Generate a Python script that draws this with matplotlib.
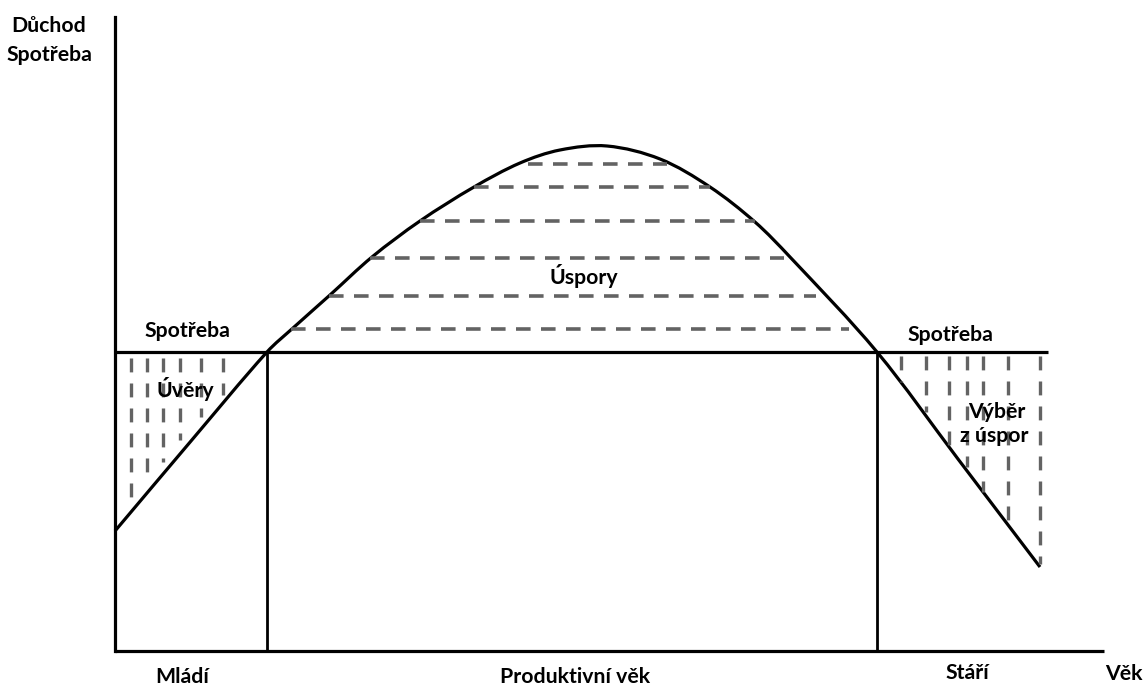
import matplotlib
matplotlib.use("Agg")
import matplotlib.pyplot as plt
import numpy as np
from matplotlib.path import Path
from matplotlib.patches import PathPatch

plt.rcParams["lines.scale_dashes"] = False
FONT = ["Lato", "DejaVu Sans"]

# --- data (pixel coordinates of the schematic, y grows downward) ---
# income curve (Důchod)
income_x = [115, 191, 267, 293, 330, 372, 420, 474, 520, 560, 607, 660,
            710, 755, 790, 877, 958, 1040]
income_y = [531, 441, 352, 328, 295, 257, 221, 187, 163, 150, 146, 159,
            187, 222, 257, 352, 459, 567]

# consumption level (Spotřeba)
consumption_y = 352
consumption_x = [115, 1048]

# phase borders
border_x = [267, 877]
axis_x0, axis_y0 = 115, 651
axis_top, axis_right = 17, 1104

# savings hatch (horizontal dashes)
sav_y = [164, 187, 221, 258, 296, 329]
sav_x0 = [528, 474, 420, 370, 329, 291]
sav_x1 = [667, 710, 755, 784, 816, 849]

# credit hatch (vertical dashes, left)
cred_x = [131, 147, 163, 180, 201, 223]
cred_y1 = [497, 478, 462, 440, 417, 395]

# dissaving hatch (vertical dashes, right)
dis_x = [901, 926, 949, 967, 983, 1008, 1040]
dis_y1 = [382, 412, 448, 467, 492, 527, 564]


def smooth_path(xs, ys):
    # chord-length Catmull-Rom drawn as cubic Bezier segments
    p = np.column_stack([xs, ys]).astype(float)
    d = np.hypot(*np.diff(p, axis=0).T)
    n = len(p)
    m = np.zeros_like(p)
    m[0] = (p[1] - p[0]) / d[0]
    m[-1] = (p[-1] - p[-2]) / d[-1]
    for i in range(1, n - 1):
        m[i] = (p[i + 1] - p[i - 1]) / (d[i - 1] + d[i])
    verts = [p[0]]
    codes = [Path.MOVETO]
    for i in range(n - 1):
        verts += [p[i] + m[i] * d[i] / 3, p[i + 1] - m[i + 1] * d[i] / 3, p[i + 1]]
        codes += [Path.CURVE4] * 3
    return Path(verts, codes)


fig = plt.figure(figsize=(11.47, 6.85), dpi=100)
ax = fig.add_axes([0, 0, 1, 1])
ax.set_xlim(0, 1147)
ax.set_ylim(685, 0)
ax.axis("off")

gray = "#636363"
for y, x0, x1 in zip(sav_y, sav_x0, sav_x1):
    ax.plot([x0, x1], [y, y], color=gray, lw=2.6, ls=(0, (10.5, 7.5)),
            dash_capstyle="butt")
for x, y1 in zip(cred_x, cred_y1):
    ax.plot([x, x], [358, y1], color=gray, lw=2.4, ls=(0, (10, 8)),
            dash_capstyle="butt")
for x, y1 in zip(dis_x, dis_y1):
    ax.plot([x, x], [356, y1], color=gray, lw=2.4, ls=(0, (10, 8)),
            dash_capstyle="butt")

# axes
ax.plot([axis_x0, axis_x0], [axis_top, axis_y0], color="black", lw=2.3)
ax.plot([axis_x0, axis_right], [axis_y0, axis_y0], color="black", lw=2.3,
        solid_capstyle="butt")

# borders and consumption
for bx in border_x:
    ax.plot([bx, bx], [consumption_y, axis_y0], color="black", lw=2.0)
ax.plot(consumption_x, [consumption_y, consumption_y], color="black", lw=2.3,
        solid_capstyle="butt")

# income curve
ax.add_patch(PathPatch(smooth_path(income_x, income_y), facecolor="none",
                       edgecolor="black", lw=2.3, capstyle="butt"))

kw = dict(family=FONT, fontweight="bold", fontsize=15.3, color="black",
          ha="center", va="baseline")
ax.text(49, 32, "Důchod", **kw)
ax.text(49, 61, "Spotřeba", **kw)
ax.text(187, 337, "Spotřeba", **kw)
ax.text(185, 397, "Úvěry", **kw)
ax.text(584, 284, "Úspory", **kw)
ax.text(950, 341, "Spotřeba", **kw)
ax.text(997, 418, "Výběr", **kw)
ax.text(994, 442, "z úspor", **kw)
ax.text(182, 683, "Mládí", **kw)
ax.text(575, 683, "Produktivní věk", **kw)
ax.text(967, 679, "Stáří", **kw)
ax.text(1124, 680, "Věk", **kw)

plt.savefig("out.png", dpi=100)
